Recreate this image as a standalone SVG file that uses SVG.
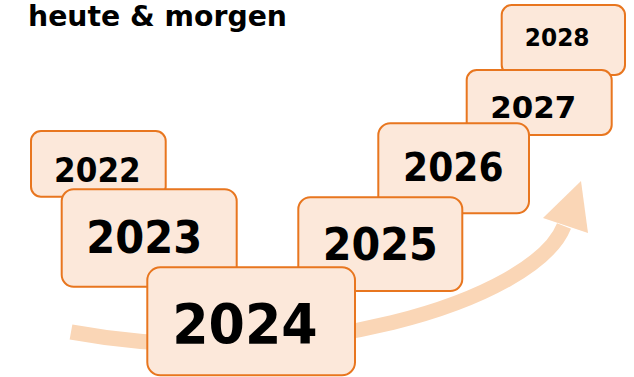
<svg xmlns="http://www.w3.org/2000/svg" width="634" height="377" viewBox="0 0 634 377">
<style>
.box{fill:#FCE8DA;stroke:#E8761F;stroke-width:2}
.yr{font-family:"DejaVu Sans",Verdana,sans-serif;font-weight:bold;fill:#000;text-anchor:middle}
.arr{fill:none;stroke:#FAD6B6;stroke-width:15}
</style>
<rect width="634" height="377" fill="#fff"/>
<text x="28" y="25.5" font-family="'DejaVu Sans',Verdana,sans-serif" font-weight="bold" font-size="28.5" textLength="259" lengthAdjust="spacingAndGlyphs">heute &amp; morgen</text>
<g id="connectors">
<path class="arr" d="M71,332 C300,374 535,300 564,226"/>
<polygon points="581,181 543,218 588,233" fill="#FAD6B6"/>
</g>
<g id="n2028"><rect class="box" x="501.7" y="5" width="123.3" height="70" rx="10"/><text class="yr" x="557.2" y="45.7" font-size="24" textLength="64.7" lengthAdjust="spacingAndGlyphs">2028</text></g>
<g id="n2027"><rect class="box" x="466.7" y="70" width="145" height="65" rx="10"/><text class="yr" x="533.3" y="118.3" font-size="30" textLength="86" lengthAdjust="spacingAndGlyphs">2027</text></g>
<g id="n2026"><rect class="box" x="378.3" y="123.3" width="150.7" height="90" rx="12"/><text class="yr" x="453.3" y="180.7" font-size="38.5" textLength="100.5" lengthAdjust="spacingAndGlyphs">2026</text></g>
<g id="n2025"><rect class="box" x="298.3" y="197.3" width="164" height="93.7" rx="12"/><text class="yr" x="380.3" y="259.5" font-size="44" textLength="115" lengthAdjust="spacingAndGlyphs">2025</text></g>
<g id="n2022"><rect class="box" x="31" y="131" width="134.7" height="65.7" rx="10"/><text class="yr" x="97.4" y="181.7" font-size="33" textLength="86.6" lengthAdjust="spacingAndGlyphs">2022</text></g>
<g id="n2023"><rect class="box" x="61.7" y="189.3" width="175" height="97.4" rx="12"/><text class="yr" x="144.2" y="252.7" font-size="45" textLength="116" lengthAdjust="spacingAndGlyphs">2023</text></g>
<g id="n2024"><rect class="box" x="147.3" y="267.3" width="207.7" height="108" rx="13"/><text class="yr" x="245" y="342.7" font-size="55" textLength="145.5" lengthAdjust="spacingAndGlyphs">2024</text></g>
</svg>
